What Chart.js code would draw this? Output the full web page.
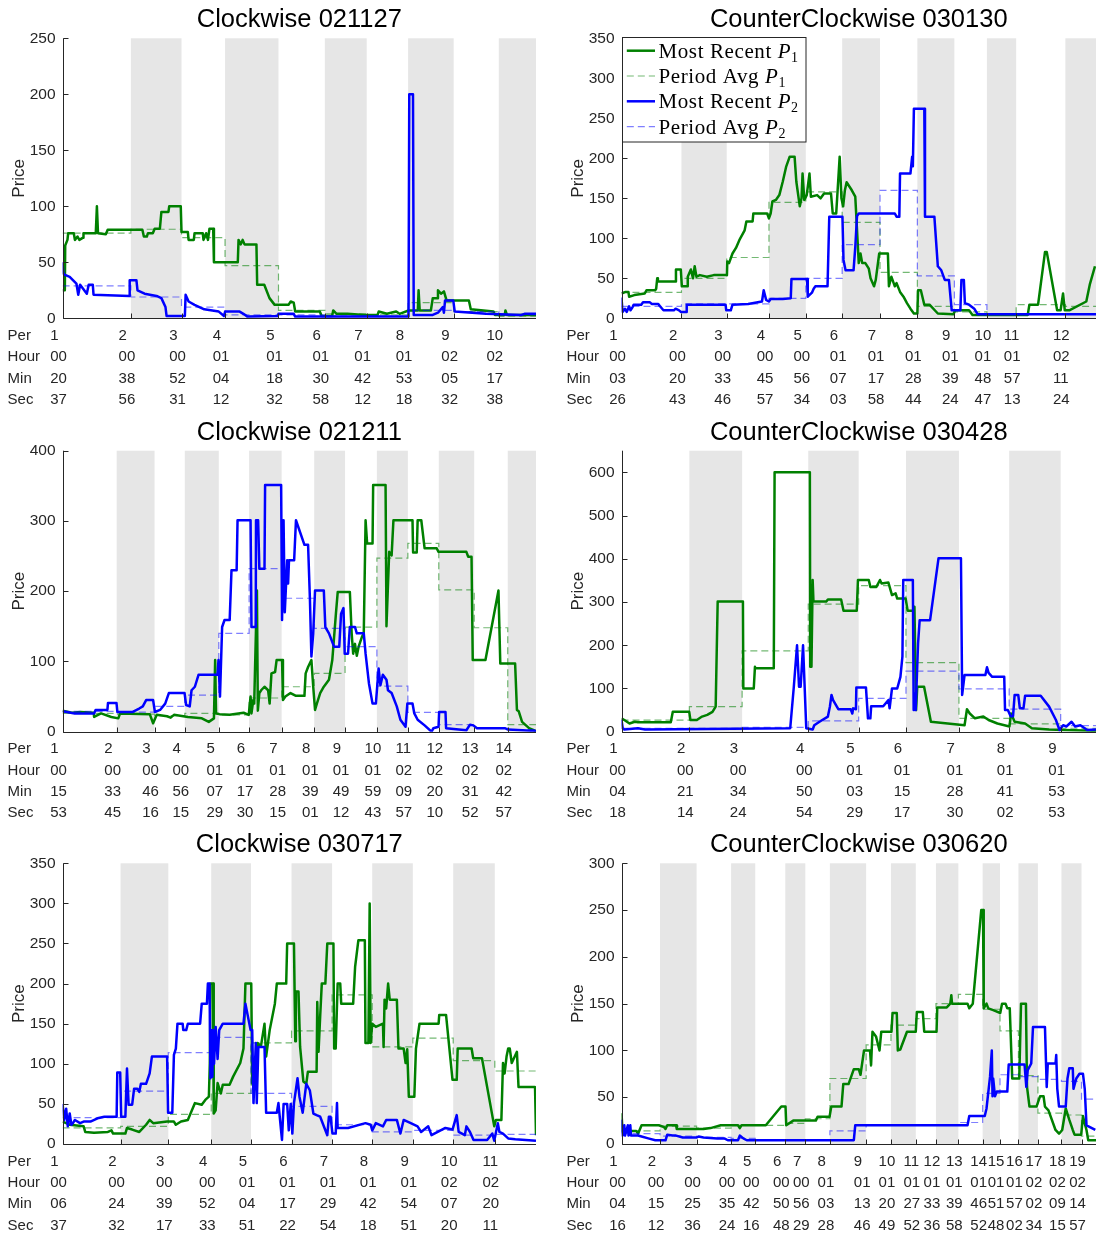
<!DOCTYPE html>
<html>
<head>
<meta charset="utf-8">
<title>Most recent and period average prices</title>
<script src="https://cdn.jsdelivr.net/npm/chart.js@4.4.1/dist/chart.umd.min.js"></script>
<style>
  html, body { margin: 0; padding: 0; background: #fff; }
  #wrap { position: relative; width: 1096px; height: 1237px; overflow: hidden; }
  #wrap canvas { position: absolute; }
</style>
</head>
<body>
<div id="wrap"></div>
<script>
// ---- Clockwise 021127 ----
const cw021127Hour = ['00','00','00','01','01','01','01','01','02','02'];
const cw021127Min  = ['20','38','52','04','18','30','42','53','05','17'];
const cw021127Sec  = ['37','56','31','12','32','58','12','18','32','38'];
const cw021127End = 127.0; // minutes after period 1 start
const cw021127Recent1 = [[0,25],[0.6,25],[0.7,65],[1.3,70],[1.5,76],[3.0,76],[3.3,70],[4.0,73],[4.5,70],[5.5,72],[5.6,76],[8.9,76],[9.2,100],[9.5,76],[11.6,75],[12.1,79],[21.4,79],[21.8,73],[22.6,73],[22.9,76],[24.2,76],[24.7,80],[26.1,80],[26.5,95],[28.4,95],[28.6,100],[31.7,100],[31.9,77],[33.6,77],[33.8,70],[35.2,70],[35.4,76],[37.6,76],[37.8,70],[38.5,76],[39.0,70],[39.4,80],[40.4,80],[40.6,50],[47.0,50],[47.2,70],[47.8,66],[48.3,70],[48.8,66],[52.0,66],[52.2,30],[54.1,30],[55.5,18],[56.9,12],[60.6,12],[61.2,15],[62.0,14],[62.4,6],[69.0,6],[69.5,2],[72.3,2],[72.6,7],[73.5,4],[76.4,4],[81.1,3],[84.5,3],[84.8,6],[87.0,4],[89.5,6],[90.4,4],[92.8,7],[95.3,7],[95.5,25],[95.8,7],[98.8,7],[99.3,18],[100.5,18],[100.7,25],[101.5,22],[102.3,24],[103.0,16],[109.0,16],[109.5,8],[115.6,6],[116.0,3],[118.6,3],[118.8,7],[119.2,3],[127.0,3]];
const cw021127Avg1 = [76, 79.5, 72, 47, 7, 4, 3, 14, 6, 2];
const cw021127Recent2 = [[0,50],[0.2,40],[0.5,39],[1.9,37],[3.7,31],[4.2,21],[4.7,30],[5.6,26],[6.5,22],[7.0,30],[8.1,30],[8.3,21],[17.9,20],[18.0,34],[19.8,34],[20.1,25],[22.0,22],[25.2,20],[26.5,18],[27.6,10],[27.9,2],[31.7,2],[32.8,2],[33.0,21],[33.8,15],[35.4,12],[38.0,8],[41.9,6],[43.3,2],[43.6,6],[47.5,6],[48.5,4],[49.6,1.5],[57.7,2],[57.9,4],[62.0,4],[62.4,1.5],[92.8,1.5],[93.0,200],[94.0,200],[94.2,3],[99.3,3],[100.7,5],[102.0,10],[102.3,5],[102.6,16],[104.8,16],[105.2,6],[113.6,4],[123.0,3],[123.9,4],[127.0,4]];
const cw021127Avg2 = [29, 19, 10, 3, 3, 2, 2, 7, 6, 3];

// ---- CounterClockwise 030130 ----
const ccw030130Hour = ['00','00','00','00','00','01','01','01','01','01','01','02'];
const ccw030130Min  = ['03','20','33','45','56','07','17','28','39','48','57','11'];
const ccw030130Sec  = ['26','43','46','57','34','03','58','44','24','47','13','24'];
const ccw030130End = 136.8;
const ccw030130Recent1 = [[0,31],[1.2,33],[2.0,33],[2.2,27],[3.7,29],[6.7,31],[7.2,35],[9.7,35],[10.0,37],[10.2,37],[10.3,50],[10.5,46],[15.6,46],[15.7,61],[17.1,61],[17.4,40],[19.0,40],[19.1,52],[20.0,61],[20.6,50],[21.1,65],[21.6,52],[22.6,54],[24.6,52],[26.6,54],[30.4,54],[30.5,71],[31.0,69],[32.0,81],[33.0,88],[34.0,98],[35.5,110],[36.0,121],[37.8,121],[38.0,131],[42.0,131],[42.5,125],[43.0,131],[43.5,146],[44.5,148],[45.5,154],[46.5,171],[47.5,190],[48.5,202],[49.9,202],[50.4,171],[51.4,140],[51.9,150],[52.2,181],[52.7,148],[53.4,154],[54.2,181],[54.6,152],[56.4,154],[57.4,150],[58.4,156],[60.4,156],[60.9,131],[61.9,131],[62.9,202],[63.4,150],[63.9,140],[64.4,160],[64.9,170],[66.4,160],[67.4,152],[68.4,69],[68.9,81],[69.4,69],[70.3,69],[71.3,62],[71.8,50],[72.8,40],[73.3,48],[74.3,81],[76.8,81],[77.1,40],[77.8,52],[78.8,40],[79.3,44],[80.3,33],[81.3,27],[82.3,19],[83.3,12],[84.3,6],[85.3,6],[85.5,35],[86.3,35],[87.3,17],[88.8,17],[91.2,6],[95.7,5],[96.2,10],[100.2,10],[101.2,4],[117.1,4],[117.6,17],[120.1,17],[122.1,83],[122.6,83],[125.6,10],[126.6,10],[127.3,31],[127.8,10],[129.1,10],[134.0,21],[135.0,42],[136.5,65]];
const ccw030130Avg1 = [32.5, 50, 76, 145, 158, 120, 57.5, 15, 8, 6, 17, 15];
const ccw030130Recent2 = [[0,26],[0.3,8],[1.0,12],[1.5,8],[2.2,15],[2.6,10],[3.2,14],[3.5,17],[5.7,17],[6.2,20],[8.2,20],[8.7,18],[10.6,18],[11.1,15],[12.1,10],[15.1,10],[15.6,12],[16.6,10],[17.1,8],[18.6,8],[18.8,17],[30.0,17],[30.2,10],[31.5,10],[32.0,17],[36.5,18],[40.5,21],[41.0,35],[41.7,23],[42.5,21],[43.0,24],[46.5,24],[48.8,25],[49.0,49],[53.5,49],[53.7,27],[54.9,32],[55.4,37],[55.9,40],[59.4,40],[59.9,127],[63.7,127],[64.0,73],[64.6,60],[66.9,60],[67.4,89],[67.9,128],[68.4,131],[78.8,131],[79.3,127],[80.1,127],[80.3,181],[83.3,181],[83.8,202],[84.0,190],[84.3,262],[87.3,262],[87.5,127],[90.2,127],[91.2,65],[92.2,60],[93.2,48],[94.4,48],[95.2,10],[97.7,10],[98.0,48],[98.7,48],[99.0,19],[100.2,17],[101.7,12],[102.7,5],[136.8,5]];
const ccw030130Avg2 = [15, 18, 18, 25, 50, 92, 160, 53, 17, 6, 5, 5];

// ---- Clockwise 021211 ----
const cw021211Hour = ['00','00','00','00','01','01','01','01','01','01','02','02','02','02'];
const cw021211Min  = ['15','33','46','56','07','17','28','39','49','59','09','20','31','42'];
const cw021211Sec  = ['53','45','16','15','29','30','15','01','12','43','57','10','52','57'];
const cw021211End = 156.4;
const cw021211Recent1 = [[0,30],[3,27],[6,28],[10.3,27],[10.4,21],[12.7,26],[16.1,21],[18.4,19],[19.0,26],[28.8,25],[29.9,12],[31.1,24],[34.5,22],[35.7,20],[36.8,24],[41.4,21],[46.0,19],[48.3,14],[50.0,19],[50.4,102],[50.7,26],[51.8,25],[55.2,24],[59.8,27],[61.5,24],[62.1,50],[62.4,26],[63.0,45],[63.3,40],[64.2,201],[64.5,30],[65.0,55],[65.6,59],[66.7,64],[67.9,59],[68.4,40],[69.0,83],[70.2,85],[70.7,102],[72.5,102],[72.8,45],[73.6,50],[75.3,55],[77.1,51],[79.9,51],[80.3,83],[81.1,92],[82.2,102],[82.8,64],[83.4,31],[84.0,40],[85.1,55],[86.3,64],[88.0,74],[89.1,102],[90.3,168],[90.9,199],[94.9,199],[95.5,140],[96.0,111],[96.6,125],[97.2,108],[97.8,121],[98.9,135],[99.5,140],[100.1,301],[100.6,268],[102.4,268],[102.6,351],[106.7,351],[107.0,150],[107.9,256],[108.7,251],[109.3,301],[115.6,301],[115.8,255],[117.0,255],[117.3,301],[118.5,301],[119.6,261],[123.6,261],[124.2,256],[133.4,256],[134.0,249],[135.1,249],[135.5,102],[139.7,102],[144.0,201],[144.6,97],[149.5,97],[150.1,31],[150.7,29],[151.8,14],[154.1,5],[156.4,1]];
const cw021211Avg1 = [26, 25, 23, 26, 24, 48, 64, 83, 149, 247, 268, 202, 148, 10];
const cw021211Recent2 = [[0,29],[4,26],[10.4,26],[10.9,31],[14.8,31],[15.0,41],[17.8,41],[18.1,28],[23.0,28],[25.3,33],[26.5,36],[27.6,45],[29.9,45],[30.5,28],[32.2,31],[33.9,40],[35.1,55],[40.3,55],[40.8,38],[42.0,36],[42.6,59],[43.7,64],[44.9,81],[51.2,81],[51.5,102],[52.0,50],[52.7,149],[53.5,159],[55.2,159],[55.8,230],[57.5,230],[57.8,301],[62.1,301],[62.4,149],[63.8,149],[63.9,301],[64.6,301],[65.0,232],[66.7,232],[66.9,351],[72.2,351],[72.5,159],[73.0,301],[73.4,170],[74.2,244],[74.5,211],[74.8,244],[76.5,244],[77.1,301],[79.9,266],[81.1,266],[81.7,190],[82.2,107],[82.8,140],[83.4,201],[86.3,201],[86.8,149],[88.0,140],[89.7,121],[91.4,121],[92.0,168],[92.8,176],[93.2,111],[94.3,111],[94.9,149],[96.6,149],[97.2,140],[99.5,140],[100.1,111],[101.2,69],[102.4,40],[103.5,40],[104.4,90],[105.0,66],[105.8,81],[107.0,74],[107.5,59],[108.7,55],[110.4,36],[111.6,17],[113.3,7],[113.9,40],[115.6,40],[116.2,26],[117.3,17],[119.6,9],[121.9,0],[122.5,5],[124.2,7],[124.4,28],[126.5,28],[126.7,5],[133.4,2],[134.6,10],[135.7,9],[136.9,5],[146.1,5],[147.2,3],[156.4,1]];
const cw021211Avg2 = [29, 28, 36, 52, 140, 232, 190, 147, 121, 65, 27.5, 10, 6, 3];

// ---- CounterClockwise 030428 ----
const ccw030428Hour = ['00','00','00','00','01','01','01','01','01'];
const ccw030428Min  = ['04','21','34','50','03','15','28','41','53'];
const ccw030428Sec  = ['18','14','24','54','29','17','30','02','53'];
const ccw030428End = 118.4;
const ccw030428Recent1 = [[0,31],[0.7,27],[2.0,19],[3.3,23],[4.1,22],[12.3,22],[12.8,46],[16.9,46],[17.2,27],[18.8,27],[20.1,35],[21.4,39],[22.7,46],[23.5,58],[24.0,301],[30.3,301],[30.4,100],[33.0,100],[33.3,150],[33.4,147],[38.0,147],[38.2,600],[47.0,600],[47.1,150],[47.4,150],[47.7,351],[47.9,301],[51.1,301],[51.5,306],[54.8,306],[55.4,280],[58.7,280],[59.0,351],[61.7,351],[62.1,335],[63.6,335],[64.5,351],[64.9,343],[66.6,345],[67.5,316],[68.4,320],[68.8,308],[70.9,308],[71.4,280],[72.8,280],[73.1,289],[73.5,50],[73.8,104],[75.5,104],[77.2,23],[85.6,15],[86.2,52],[86.9,42],[88.2,31],[90.3,35],[91.6,27],[93.8,19],[96.8,12],[97.2,42],[98.1,23],[100.7,19],[102.4,8],[106.7,5],[110.2,4],[118.4,2]];
const ccw030428Avg1 = [27, 58, 187, 295, 338, 160, 31, 18, 8];
const ccw030428Recent2 = [[0,27],[0.3,8],[0.7,5],[4.1,8],[5.9,5],[42.1,8],[43.0,104],[43.8,200],[44.3,104],[44.7,104],[45.3,200],[46.1,8],[47.7,5],[48.1,15],[49.4,23],[51.5,35],[52.0,58],[52.4,85],[52.8,73],[54.1,52],[57.2,52],[57.6,42],[57.8,54],[58.5,52],[58.6,102],[61.0,102],[61.5,31],[62.1,31],[62.3,59],[65.3,59],[66.6,73],[66.9,54],[67.5,100],[68.8,100],[69.6,127],[70.1,174],[70.3,351],[72.7,351],[72.9,50],[73.1,89],[73.4,50],[74.0,204],[74.4,258],[77.0,258],[79.1,401],[84.7,401],[85.0,85],[85.6,131],[90.8,131],[91.2,149],[91.6,136],[92.5,127],[95.5,127],[95.7,50],[96.4,50],[97.1,36],[97.7,36],[98.1,85],[99.0,85],[99.4,54],[100.3,54],[100.7,83],[104.6,83],[106.7,58],[108.4,27],[109.3,4],[110.2,15],[111.0,12],[112.3,23],[113.2,12],[114.5,15],[116.2,4],[118.4,5]];
const ccw030428Avg2 = [8, 8, 10, 25, 77, 140, 99, 52, 14];

// ---- Clockwise 030717 ----
const cw030717Hour = ['00','00','00','00','01','01','01','01','01','02','02'];
const cw030717Min  = ['06','24','39','52','04','17','29','42','54','07','20'];
const cw030717Sec  = ['37','32','17','33','51','22','54','18','51','20','11'];
const cw030717End = 146.3;
const cw030717Recent1 = [[0,28],[1.1,26],[2.2,24],[6.5,22],[7.0,15],[9.7,14],[14.0,15],[15.1,17],[15.6,13],[19.4,13],[19.9,20],[21.5,18],[23.7,15],[25.8,24],[26.9,30],[28.0,26],[32.3,28],[34.4,28],[35.0,24],[36.6,28],[38.7,30],[40.9,51],[43.0,49],[44.1,55],[45.2,59],[45.5,101],[45.7,200],[46.5,200],[46.7,38],[47.3,42],[47.9,76],[48.9,63],[49.5,74],[51.6,74],[52.7,84],[54.9,101],[55.9,119],[56.5,200],[58.3,200],[58.6,76],[59.2,69],[60.2,126],[61.3,122],[62.4,150],[62.9,109],[64.0,142],[65.6,175],[66.2,200],[69.1,200],[69.4,250],[71.5,250],[71.9,128],[72.1,190],[72.9,190],[73.4,121],[74.4,78],[75.3,75],[75.8,90],[78.5,90],[78.7,177],[79.1,115],[79.6,159],[80.1,200],[81.2,200],[81.8,250],[83.7,250],[83.9,119],[84.4,119],[85.0,200],[85.8,200],[86.1,175],[89.8,175],[90.4,221],[91.4,254],[93.4,254],[93.6,126],[94.5,126],[94.9,300],[95.2,126],[95.7,150],[96.8,146],[99.0,150],[99.2,121],[99.5,180],[100.0,169],[100.6,200],[101.1,180],[103.3,180],[103.8,119],[105.4,119],[106.0,101],[106.5,118],[107.0,59],[108.7,59],[109.2,119],[110.3,150],[116.2,150],[116.4,161],[118.5,161],[120.5,80],[121.8,80],[122.1,119],[126.4,119],[126.9,107],[129.6,107],[133.4,22],[133.9,30],[135.6,30],[136.1,101],[136.6,88],[137.2,109],[137.7,119],[138.2,119],[138.8,101],[140.4,115],[140.9,71],[146.0,71],[146.3,11]];
const cw030717Avg1 = [20, 22, 37, 63, 126, 141, 186, 121, 132, 104, 91];
const cw030717Recent2 = [[0,50],[0.5,30],[1.1,44],[1.6,22],[2.2,38],[2.7,24],[3.2,26],[3.8,30],[5.4,26],[6.5,28],[8.6,28],[10.8,32],[12.9,34],[16.7,34],[16.9,89],[17.8,89],[18.1,34],[19.4,34],[19.9,94],[20.4,49],[21.5,49],[22.1,69],[23.1,69],[23.7,65],[24.2,75],[25.8,75],[26.9,88],[27.6,109],[32.3,109],[32.6,39],[33.9,39],[34.4,111],[35.0,119],[35.5,150],[37.1,150],[37.3,142],[38.2,142],[38.7,150],[42.5,150],[43.0,175],[44.6,175],[44.9,200],[45.4,200],[45.7,82],[45.9,142],[46.3,84],[46.5,142],[46.8,100],[47.3,146],[47.9,106],[48.4,142],[49.5,150],[55.9,150],[56.5,175],[58.1,142],[58.6,142],[59.0,51],[59.7,126],[60.0,51],[60.5,121],[62.4,121],[62.9,39],[66.2,39],[66.7,51],[67.8,5],[68.3,50],[69.4,50],[69.9,17],[70.5,50],[71.0,13],[71.5,51],[72.6,82],[73.2,59],[74.2,39],[75.3,75],[76.4,67],[77.5,38],[78.5,36],[79.6,34],[81.8,11],[82.3,34],[82.8,34],[83.4,13],[84.4,13],[84.8,51],[85.0,20],[88.2,20],[93.6,26],[95.2,24],[95.7,17],[96.8,26],[99.0,22],[100.0,30],[103.3,30],[104.4,13],[105.4,30],[107.6,26],[109.7,22],[110.8,15],[113.0,22],[114.0,11],[118.3,20],[120.5,18],[121.8,36],[122.4,15],[124.3,11],[124.8,22],[125.9,15],[127.0,5],[131.2,5],[132.8,13],[133.4,4],[134.5,26],[135.0,15],[136.1,13],[137.7,7],[139.9,6],[146.3,4]];
const cw030717Avg2 = [33, 66, 114, 133, 63, 47, 24, 15, 17, 11, 12];

// ---- CounterClockwise 030620 ----
const ccw030620Hour = ['00','00','00','00','00','00','00','01','01','01','01','01','01','01','01','01','02','02','02'];
const ccw030620Min  = ['04','15','25','35','42','50','56','03','13','20','27','33','39','46','51','57','02','09','14'];
const ccw030620Sec  = ['16','12','36','24','16','48','29','28','46','49','52','36','58','52','48','02','34','15','57'];
const ccw030620End = 134.8;
const ccw030620Recent1 = [[0,33],[0.3,13],[0.8,15],[2.3,14],[4.2,14],[4.7,11],[5.7,20],[10.6,20],[12.1,18],[12.5,16],[13.0,20],[15.5,20],[15.7,16],[23.3,16],[25.3,17],[28.2,20],[33.1,20],[33.6,17],[34.1,20],[41.0,20],[45.4,40],[46.6,40],[46.8,20],[48.8,25],[55.2,25],[55.7,29],[59.1,29],[59.6,40],[62.5,40],[63.0,64],[64.5,64],[66.0,80],[67.4,80],[67.9,74],[68.9,100],[70.6,100],[70.9,84],[71.3,120],[72.3,115],[73.3,100],[73.8,120],[76.7,120],[77.0,140],[78.2,140],[78.5,100],[79.2,101],[81.1,120],[83.6,120],[83.9,141],[85.6,141],[86.0,120],[89.5,120],[89.7,146],[92.4,146],[93.4,150],[93.7,159],[93.9,150],[98.3,150],[98.8,145],[99.8,150],[102.2,250],[102.7,250],[102.9,145],[103.7,150],[104.2,145],[105.6,143],[107.6,140],[108.1,150],[109.1,150],[109.6,145],[110.3,145],[111.0,70],[113.0,70],[113.5,150],[114.9,150],[115.2,61],[115.9,40],[117.9,40],[118.9,51],[119.9,51],[120.3,40],[121.3,36],[123.3,15],[124.3,11],[125.2,15],[126.2,38],[127.2,26],[128.2,15],[128.7,10],[130.6,10],[131.1,30],[131.6,22],[132.1,15],[132.6,4],[134.8,4]];
const ccw030620Avg1 = [14, 19, 17, 20, 20, 22, 27, 70, 106, 127, 134, 150, 160, 144, 121, 73, 33, 31, 8.5];
const ccw030620Recent2 = [[0,26],[0.3,9],[0.8,20],[1.0,9],[1.8,20],[2.0,9],[2.5,20],[2.7,9],[4.7,9],[5.7,8],[7.6,6],[9.6,4],[12.5,4],[13.0,10],[14.5,9],[15.5,9],[17.4,7],[21.4,7],[21.9,8],[23.3,7],[27.2,6],[29.2,6],[30.2,4],[33.1,4],[33.6,9],[34.6,6],[35.6,4],[66.0,4],[66.4,20],[98.3,20],[98.8,30],[103.2,30],[103.7,38],[104.7,72],[105.2,100],[105.4,51],[105.6,70],[106.1,51],[106.6,56],[109.6,56],[110.0,85],[114.5,85],[115.0,61],[115.4,79],[116.4,86],[116.9,125],[120.3,125],[120.8,61],[121.1,86],[123.3,86],[123.5,95],[123.8,59],[124.3,40],[126.2,40],[126.7,70],[127.2,81],[128.2,81],[128.4,59],[129.2,70],[130.1,75],[131.1,75],[131.6,59],[132.1,20],[134.6,15]];
const ccw030620Avg2 = [11, 8.5, 7, 6, 4, 4, 4, 14, 20, 20, 20, 20, 23, 54, 74, 72, 69, 67, 48];

const GREEN = '#008000';
const BLUE = '#0000ff';
const GREEN_AVG = 'rgba(0,128,0,0.55)';
const BLUE_AVG = 'rgba(0,0,255,0.5)';
const AXIS = '#262626';
const SANS = '"Liberation Sans", Arial, Helvetica, sans-serif';
const SERIF = '"Liberation Serif", "Times New Roman", serif';

// canvas layout: two columns, three rows
const CANVAS_W = 548, CANVAS_H = 413;
const colAxisLeft = [62.6, 73.5];
const colPadRight = [12, 0];
const rowPadTop = [38.3, 37.7, 37.3];
const rowPadBottom = [94.7, 94.3, 95];

const plots = [
  { title: 'Clockwise 021127', hours: cw021127Hour, mins: cw021127Min, secs: cw021127Sec, end: cw021127End,
    recent1: cw021127Recent1, avg1: cw021127Avg1, recent2: cw021127Recent2, avg2: cw021127Avg2, yMax: 250, yStep: 50, col: 0, row: 0 },
  { title: 'CounterClockwise 030130', hours: ccw030130Hour, mins: ccw030130Min, secs: ccw030130Sec, end: ccw030130End,
    recent1: ccw030130Recent1, avg1: ccw030130Avg1, recent2: ccw030130Recent2, avg2: ccw030130Avg2, yMax: 350, yStep: 50, col: 1, row: 0, legend: true },
  { title: 'Clockwise 021211', hours: cw021211Hour, mins: cw021211Min, secs: cw021211Sec, end: cw021211End,
    recent1: cw021211Recent1, avg1: cw021211Avg1, recent2: cw021211Recent2, avg2: cw021211Avg2, yMax: 400, yStep: 100, col: 0, row: 1 },
  { title: 'CounterClockwise 030428', hours: ccw030428Hour, mins: ccw030428Min, secs: ccw030428Sec, end: ccw030428End,
    recent1: ccw030428Recent1, avg1: ccw030428Avg1, recent2: ccw030428Recent2, avg2: ccw030428Avg2, yMax: 650, yStep: 100, col: 1, row: 1 },
  { title: 'Clockwise 030717', hours: cw030717Hour, mins: cw030717Min, secs: cw030717Sec, end: cw030717End,
    recent1: cw030717Recent1, avg1: cw030717Avg1, recent2: cw030717Recent2, avg2: cw030717Avg2, yMax: 350, yStep: 50, col: 0, row: 2 },
  { title: 'CounterClockwise 030620', hours: ccw030620Hour, mins: ccw030620Min, secs: ccw030620Sec, end: ccw030620End,
    recent1: ccw030620Recent1, avg1: ccw030620Avg1, recent2: ccw030620Recent2, avg2: ccw030620Avg2, yMax: 300, yStep: 50, col: 1, row: 2 }
];

Chart.defaults.font.family = SANS;

function toSeconds(h, m, s) {
  return parseInt(h, 10) * 3600 + parseInt(m, 10) * 60 + parseInt(s, 10);
}

// period start times, in minutes after the first period
function periodStarts(p) {
  const t0 = toSeconds(p.hours[0], p.mins[0], p.secs[0]);
  return p.hours.map((h, i) => (toSeconds(h, p.mins[i], p.secs[i]) - t0) / 60);
}

function toPoints(pairs) {
  return pairs.map(d => ({ x: d[0], y: d[1] }));
}

// staircase for the per-period averages
function stairs(starts, avg, end) {
  const pts = [];
  avg.forEach((v, i) => {
    const stop = i + 1 < starts.length ? starts[i + 1] : end;
    pts.push({ x: starts[i], y: v }, { x: stop, y: v });
  });
  return pts;
}

function legendLabel(ctx, x, y, text, sub) {
  ctx.font = '21px ' + SERIF;
  ctx.fillText(text, x, y);
  x += ctx.measureText(text).width;
  ctx.font = 'italic 21px ' + SERIF;
  ctx.fillText('P', x, y);
  x += ctx.measureText('P').width;
  ctx.font = '14px ' + SERIF;
  ctx.fillText(sub, x, y + 4);
}

function makeChart(p) {
  const starts = periodStarts(p);
  const wrap = document.getElementById('wrap');
  const canvas = document.createElement('canvas');
  canvas.width = CANVAS_W;
  canvas.height = CANVAS_H;
  canvas.style.left = (p.col * CANVAS_W) + 'px';
  canvas.style.top = (p.row * CANVAS_H) + 'px';
  wrap.appendChild(canvas);

  // grey shading on every second period
  const bands = {
    id: 'bands',
    beforeDatasetsDraw(chart) {
      const { ctx, chartArea: a, scales: { x } } = chart;
      ctx.save();
      ctx.fillStyle = '#e6e6e6';
      for (let i = 1; i < starts.length; i += 2) {
        const x0 = x.getPixelForValue(starts[i]);
        const x1 = x.getPixelForValue(i + 1 < starts.length ? starts[i + 1] : p.end);
        ctx.fillRect(x0, a.top, x1 - x0, a.bottom - a.top);
      }
      ctx.restore();
    }
  };

  // axes, title, time table under the axis, legend
  const decor = {
    id: 'decor',
    afterDraw(chart) {
      const { ctx, chartArea: a, scales: { x, y } } = chart;
      ctx.save();
      ctx.strokeStyle = AXIS;
      ctx.lineWidth = 1;
      ctx.beginPath();
      const L = Math.round(a.left) + 0.5, B = Math.round(a.bottom) + 0.5;
      ctx.moveTo(L, a.top);
      ctx.lineTo(L, B);
      ctx.lineTo(a.right, B);
      y.ticks.forEach(t => {
        const py = Math.round(y.getPixelForValue(t.value)) + 0.5;
        ctx.moveTo(L, py);
        ctx.lineTo(L + 5, py);
      });
      starts.forEach(s => {
        const px = Math.round(x.getPixelForValue(s)) + 0.5;
        ctx.moveTo(px, B);
        ctx.lineTo(px, B - 5);
      });
      ctx.stroke();

      ctx.fillStyle = '#000';
      ctx.font = '25.5px ' + SANS;
      ctx.textAlign = 'center';
      ctx.textBaseline = 'alphabetic';
      ctx.fillText(p.title, (a.left + a.right) / 2, a.top - 11);

      ctx.save();
      ctx.fillStyle = AXIS;
      ctx.font = '17px ' + SANS;
      ctx.translate(a.left - 39, (a.top + a.bottom) / 2);
      ctx.rotate(-Math.PI / 2);
      ctx.fillText('Price', 0, 0);
      ctx.restore();

      ctx.fillStyle = AXIS;
      ctx.font = '15px ' + SANS;
      ctx.textAlign = 'left';
      ctx.textBaseline = 'middle';
      const rowY = [17.5, 39, 60.3, 81.5].map(d => a.bottom + d);
      ['Per', 'Hour', 'Min', 'Sec'].forEach((t, r) => ctx.fillText(t, a.left - 55, rowY[r]));
      const half = ctx.measureText('00').width / 2;
      starts.forEach((s, i) => {
        const lx = x.getPixelForValue(s) - 4 - half;
        [String(i + 1), p.hours[i], p.mins[i], p.secs[i]].forEach((c, r) => ctx.fillText(c, lx, rowY[r]));
      });

      if (p.legend) {
        const bx = Math.round(a.left) + 0.5, by = Math.round(a.top) - 0.5;
        ctx.fillStyle = '#fff';
        ctx.fillRect(bx, by, 183.5, 104.5);
        ctx.strokeStyle = AXIS;
        ctx.lineWidth = 1;
        ctx.strokeRect(bx, by, 183.5, 104.5);
        const entries = [
          { text: 'Most Recent ', sub: '1', color: GREEN, width: 2.5, dash: [] },
          { text: 'Period Avg ', sub: '1', color: GREEN_AVG, width: 1.2, dash: [7, 4] },
          { text: 'Most Recent ', sub: '2', color: BLUE, width: 2.5, dash: [] },
          { text: 'Period Avg ', sub: '2', color: BLUE_AVG, width: 1.2, dash: [7, 4] }
        ];
        entries.forEach((e, i) => {
          const cy = a.top + 12.4 + i * 25.3;
          ctx.beginPath();
          ctx.strokeStyle = e.color;
          ctx.lineWidth = e.width;
          ctx.setLineDash(e.dash);
          ctx.moveTo(a.left + 5.3, cy);
          ctx.lineTo(a.left + 33.5, cy);
          ctx.stroke();
          ctx.setLineDash([]);
          ctx.fillStyle = '#000';
          ctx.textAlign = 'left';
          ctx.textBaseline = 'alphabetic';
          if ('letterSpacing' in ctx) ctx.letterSpacing = '0.6px';
          legendLabel(ctx, a.left + 37, cy + 7, e.text, e.sub);
          if ('letterSpacing' in ctx) ctx.letterSpacing = '0px';
        });
      }
      ctx.restore();
    }
  };

  const axisWidth = colAxisLeft[p.col];
  return new Chart(canvas, {
    type: 'line',
    data: {
      datasets: [
        { label: 'Most Recent P1', data: toPoints(p.recent1), borderColor: GREEN, borderWidth: 2.5,
          pointRadius: 0, tension: 0, order: 4, borderJoinStyle: 'round' },
        { label: 'Period Avg P1', data: stairs(starts, p.avg1, p.end), borderColor: GREEN_AVG, borderWidth: 1.2,
          borderDash: [7, 4], pointRadius: 0, tension: 0, order: 3 },
        { label: 'Most Recent P2', data: toPoints(p.recent2), borderColor: BLUE, borderWidth: 2.5,
          pointRadius: 0, tension: 0, order: 2, borderJoinStyle: 'round' },
        { label: 'Period Avg P2', data: stairs(starts, p.avg2, p.end), borderColor: BLUE_AVG, borderWidth: 1.2,
          borderDash: [7, 4], pointRadius: 0, tension: 0, order: 1 }
      ]
    },
    options: {
      responsive: false,
      animation: false,
      devicePixelRatio: 1,
      layout: { padding: { left: 0, right: colPadRight[p.col], top: rowPadTop[p.row], bottom: rowPadBottom[p.row] } },
      plugins: { legend: { display: false }, tooltip: { enabled: false }, title: { display: false } },
      scales: {
        x: { type: 'linear', min: 0, max: p.end, display: false },
        y: {
          min: 0, max: p.yMax,
          ticks: { stepSize: p.yStep, includeBounds: false, color: AXIS, padding: 7, font: { size: 15.5, family: SANS } },
          grid: { display: false, drawTicks: false },
          border: { display: false },
          afterFit(axis) { axis.width = axisWidth; }
        }
      }
    },
    plugins: [bands, decor]
  });
}

plots.forEach(makeChart);
</script>
</body>
</html>
